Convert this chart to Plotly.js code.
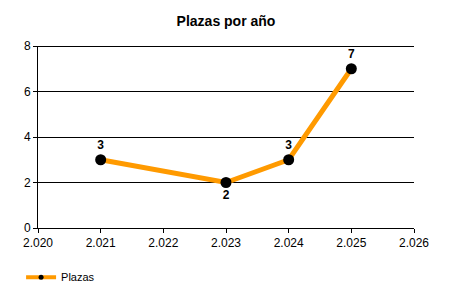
<!DOCTYPE html>
<html>
<head>
<meta charset="utf-8">
<script src="https://cdn.plot.ly/plotly-3.0.1.min.js"></script>
<style>html,body{margin:0;padding:0;background:#fff}#chart{width:450px;height:300px}</style>
</head>
<body>
<div id="chart"></div>
<script>
const years = [2021, 2023, 2024, 2025];
const plazas = [3, 2, 3, 7];
const labelPositions = ['top center', 'bottom center', 'top center', 'top center'];
const seriesName = 'Plazas';
const chartTitle = 'Plazas por año';
const yMax = 8;

const trace = {
  x: years,
  y: plazas,
  name: seriesName,
  type: 'scatter',
  mode: 'lines+markers+text',
  line: {color: '#FF9A00', width: 5},
  marker: {color: '#000000', size: 11},
  text: plazas.map(v => '<b>' + v + '</b>'),
  textposition: labelPositions,
  textfont: {family: 'Liberation Sans, Arial, sans-serif', size: 12, color: '#000'},
  cliponaxis: false,
  showlegend: false
};

// legend-only entry (no data) so the legend symbol can be drawn smaller
const legendTrace = {
  x: [null], y: [null],
  name: seriesName,
  type: 'scatter',
  mode: 'lines+markers',
  line: {color: '#FF9A00', width: 4},
  marker: {color: '#000000', size: 5},
  showlegend: true,
  hoverinfo: 'skip'
};

const layout = {
  width: 450, height: 300,
  separators: ',.',
  margin: {l: 37.5, r: 36, t: 46, b: 72, autoexpand: false},
  paper_bgcolor: '#fff', plot_bgcolor: '#fff',
  font: {family: 'Liberation Sans, Arial, sans-serif', size: 12, color: '#000'},
  title: {text: '<b>' + chartTitle + '</b>', x: 0.5, xref: 'paper', y: 0.93, yanchor: 'middle',
          font: {size: 14, color: '#000'}},
  xaxis: {range: [2020, 2026], dtick: 1, tick0: 2020, tickformat: ',d',
          showgrid: false, zeroline: false, showline: true, linecolor: '#000', linewidth: 1,
          ticks: 'outside', ticklen: 4, tickcolor: '#000', tickfont: {size: 12}},
  yaxis: {range: [0, yMax], dtick: 2, showgrid: true, gridcolor: '#000', gridwidth: 1,
          zeroline: false, showline: true, linecolor: '#000', linewidth: 1,
          ticks: 'outside', ticklen: 4, tickcolor: '#000', tickfont: {size: 12}},
  shapes: [{type: 'line', xref: 'paper', yref: 'y', x0: 0, x1: 1,
            ysizemode: 'pixel', yanchor: yMax, y0: -0.5, y1: -0.5,
            line: {color: '#000', width: 1}, layer: 'below'}],
  showlegend: true,
  legend: {x: -0.045, xanchor: 'left', y: -0.27, yanchor: 'middle', orientation: 'h',
           itemwidth: 30, font: {size: 11, color: '#000'}, bgcolor: 'rgba(0,0,0,0)'}
};

Plotly.newPlot('chart', [trace, legendTrace], layout, {displayModeBar: false, staticPlot: true});
</script>
</body>
</html>
